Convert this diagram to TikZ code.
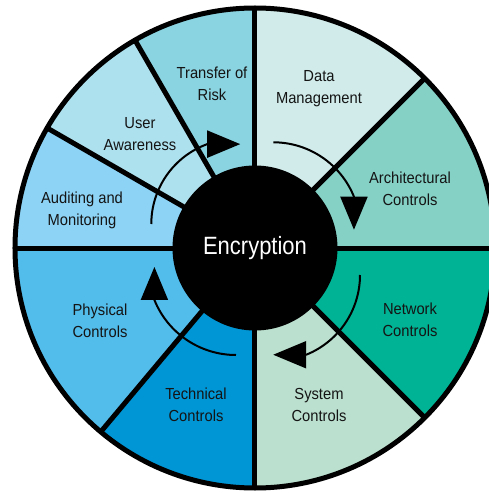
\documentclass[tikz,border=0pt]{standalone}
\usepackage{fontspec}
\setmainfont[FakeStretch=0.92]{Liberation Sans}
\newfontfamily\hubfont[FakeStretch=0.88]{Liberation Sans}
\usepackage{xcolor}
\definecolor{colorrisk}{RGB}{138,211,224}
\definecolor{colordata}{RGB}{208,235,234}
\definecolor{colorarch}{RGB}{133,209,198}
\definecolor{colornet}{RGB}{0,179,148}
\definecolor{colorsys}{RGB}{187,224,207}
\definecolor{colortech}{RGB}{0,150,214}
\definecolor{colorphys}{RGB}{82,188,235}
\definecolor{coloraudit}{RGB}{140,211,245}
\definecolor{coloruser}{RGB}{174,225,238}
\definecolor{colortext}{RGB}{20,20,20}
\usetikzlibrary{arrows.meta}
\tikzstyle{divider} = [line width=5pt, draw=black]
\tikzstyle{seglabel} = [align=center, text=colortext, font=\fontsize{16}{22}\selectfont]
\tikzstyle{hub} = [circle, fill=black, minimum size=165pt, inner sep=0pt, text=white, font=\hubfont\fontsize{25}{28}\selectfont]
\tikzstyle{cyclearrow} = [line width=2pt, -{Triangle[length=33pt,width=27pt]}]

\begin{document}
\begin{tikzpicture}[x=1pt, y=1pt]
    \useasboundingbox (-255,-245) rectangle (234,248);

    \fill[colorarch] (0,0) -- (0:240pt) arc[start angle=0, end angle=45, radius=240pt] -- cycle;
    \fill[colordata] (0,0) -- (45:240pt) arc[start angle=45, end angle=90, radius=240pt] -- cycle;
    \fill[colorrisk] (0,0) -- (90:240pt) arc[start angle=90, end angle=120, radius=240pt] -- cycle;
    \fill[coloruser] (0,0) -- (120:240pt) arc[start angle=120, end angle=150, radius=240pt] -- cycle;
    \fill[coloraudit] (0,0) -- (150:240pt) arc[start angle=150, end angle=180, radius=240pt] -- cycle;
    \fill[colorphys] (0,0) -- (180:240pt) arc[start angle=180, end angle=230, radius=240pt] -- cycle;
    \fill[colortech] (0,0) -- (230:240pt) arc[start angle=230, end angle=270, radius=240pt] -- cycle;
    \fill[colorsys] (0,0) -- (270:240pt) arc[start angle=270, end angle=315, radius=240pt] -- cycle;
    \fill[colornet] (0,0) -- (315:240pt) arc[start angle=315, end angle=360, radius=240pt] -- cycle;

    \draw[divider] (0,0) -- (0:240pt);
    \draw[divider] (0,0) -- (45:240pt);
    \draw[divider] (0,0) -- (90:240pt);
    \draw[divider] (0,0) -- (120:240pt);
    \draw[divider] (0,0) -- (150:240pt);
    \draw[divider] (0,0) -- (180:240pt);
    \draw[divider] (0,0) -- (230:240pt);
    \draw[divider] (0,0) -- (270:240pt);
    \draw[divider] (0,0) -- (315:240pt);
    \draw[divider] (0,0) circle (240pt);

    \node[hub] (enc) at (0,0) {Encryption};

    \coordinate (s1) at (18.3,105.7);
    \coordinate (s2) at (105,-27);
    \coordinate (s3) at (-19,-107);
    \coordinate (s4) at (-103.7,24);
    \draw[cyclearrow] (s1) arc[start angle=90, end angle=22, radius=87pt] -- ++(0,-33);
    \draw[cyclearrow] (s2) arc[start angle=0, end angle=-68, radius=86pt] -- ++(-33,0);
    \draw[cyclearrow] (s3) arc[start angle=270, end angle=202, radius=88pt] -- ++(0,33);
    \draw[cyclearrow] (s4) arc[start angle=180, end angle=110, radius=85pt] -- ++(33,0);

    \node[seglabel] (risk) at (-43,164) {Transfer of\\Risk};
    \node[seglabel] (data) at (64,159.5) {Data\\Management};
    \node[seglabel] (arch) at (155,59.5) {Architectural\\Controls};
    \node[seglabel] (net) at (155,-71.5) {Network\\Controls};
    \node[seglabel] (sys) at (64,-156.5) {System\\Controls};
    \node[seglabel] (tech) at (-59,-156.5) {Technical\\Controls};
    \node[seglabel] (phys) at (-155,-72.5) {Physical\\Controls};
    \node[seglabel] (audit) at (-173,37.5) {Auditing and\\Monitoring};
    \node[seglabel] (user) at (-115,113.5) {User\\Awareness};
\end{tikzpicture}
\end{document}
